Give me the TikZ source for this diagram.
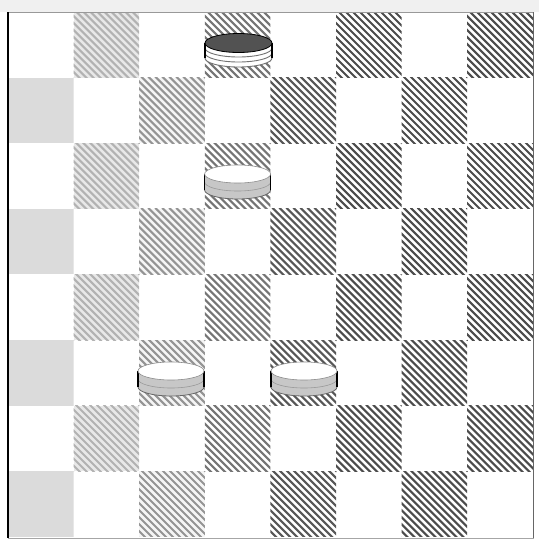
\documentclass[tikz,border=0pt]{standalone}
\begin{document}
\begin{tikzpicture}[x=1pt,y=-1pt]
\useasboundingbox (0,0) rectangle (539,544);
\fill[white] (0,0) rectangle (539,544);
\fill[black!6] (0,0) rectangle (539,12);
% board squares
\foreach \r in {0,...,7}{
 \foreach \c in {0,...,7}{
  \pgfmathtruncatemacro{\d}{mod(\r+\c,2)}
  \ifnum\d=1
   \pgfmathsetmacro{\xa}{8+65.6*\c}
   \pgfmathsetmacro{\ya}{12+65.6*\r}
   \pgfmathtruncatemacro{\pc}{min(70,18+12*\c)}
   \pgfmathtruncatemacro{\bg}{max(0,14-5*\c)}
   \begin{scope}
    \clip (\xa,\ya) rectangle ++(65.6,65.6);
    \fill[black!\bg] (\xa,\ya) rectangle ++(65.6,65.6);
    \ifnum\c>0
    \foreach \k in {-68,-61,...,66}
      \draw[line width=2.1pt, black!\pc] (\xa+\k,\ya-1) -- ++(68,68);
    \fi
   \end{scope}
  \fi
 }
}
% frame
\draw[black!40, line width=1pt] (8,12) -- (533.5,12);
\draw[black!35, line width=1pt] (8,538) -- (533.5,538);
\draw[black!60, line width=1.5pt] (533.5,12) -- (533.5,538);
\draw[black, line width=2pt] (7.5,12) -- (7.5,538);
% light pieces
\foreach \cx/\cy in {237.6/174, 171/371, 304/371}{
  \fill[black!22] (\cx-33,\cy) -- (\cx-33,\cy+16) arc[start angle=180,end angle=0,x radius=33,y radius=9] -- (\cx+33,\cy) -- cycle;
  \draw[black!40, line width=0.6pt] (\cx-33,\cy+8) arc[start angle=180,end angle=0,x radius=33,y radius=9];
  \draw[black!60, line width=0.8pt] (\cx-33,\cy+16) arc[start angle=180,end angle=0,x radius=33,y radius=9];
  \draw[black, line width=1.6pt] (\cx-33,\cy) -- (\cx-33,\cy+16);
  \draw[black, line width=1.6pt] (\cx+33,\cy) -- (\cx+33,\cy+16);
  \fill[white] (\cx,\cy) ellipse [x radius=33, y radius=9];
  \draw[black!45, line width=0.6pt] (\cx,\cy) ellipse [x radius=33, y radius=9];
}
% dark piece (stack)
\def\cx{238.5}\def\cy{43}
\fill[white] (\cx-33.5,\cy) -- (\cx-33.5,\cy+15) arc[start angle=180,end angle=0,x radius=33.5,y radius=9] -- (\cx+33.5,\cy) -- cycle;
\foreach \o in {5,10,15}
  \draw[black!55, line width=0.9pt] (\cx-33.5,\cy+\o) arc[start angle=180,end angle=0,x radius=33.5,y radius=9];
\draw[black, line width=1.6pt] (\cx-33.5,\cy) -- (\cx-33.5,\cy+15);
\draw[black, line width=1.6pt] (\cx+33.5,\cy) -- (\cx+33.5,\cy+15);
\fill[black!68] (\cx,\cy) ellipse [x radius=33.5, y radius=9.5];
\draw[black, line width=0.8pt] (\cx,\cy) ellipse [x radius=33.5, y radius=9.5];
\end{tikzpicture}
\end{document}
